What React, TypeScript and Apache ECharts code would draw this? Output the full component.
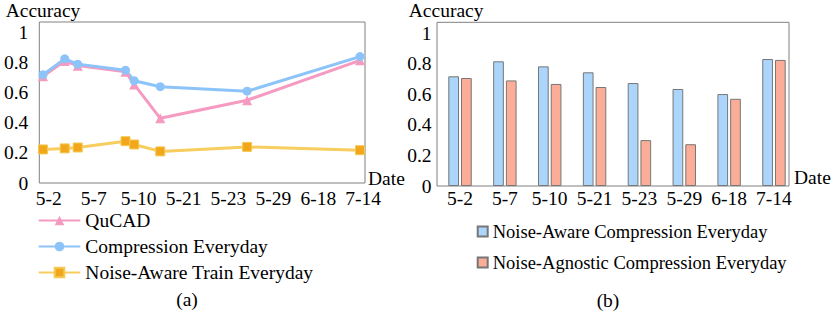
import React, { useEffect, useRef } from "react";
import * as echarts from "echarts";

const dateLabels = ["5-2", "5-7", "5-10", "5-21", "5-23", "5-29", "6-18", "7-14"];
const dayOffsets = [0, 5, 8, 19, 21, 27, 47, 73];
const qucad = [0.71, 0.81, 0.78, 0.74, 0.655, 0.43, 0.55, 0.815];
const compressionEveryday = [0.72, 0.825, 0.79, 0.75, 0.68, 0.64, 0.61, 0.84];
const noiseAwareTrain = [0.223, 0.23, 0.236, 0.278, 0.256, 0.21, 0.24, 0.218];
const noiseAwareComp = [0.717, 0.815, 0.782, 0.743, 0.673, 0.634, 0.601, 0.83];
const noiseAgnosticComp = [0.706, 0.69, 0.667, 0.647, 0.3, 0.273, 0.57, 0.824];

const FONT = "Liberation Serif";
const FS = 19.5;

export default function App() {
  const ref = useRef<HTMLDivElement>(null);
  useEffect(() => {
    document.body.style.margin = "0";
    const chart = echarts.init(ref.current!, null, { renderer: "svg" });
    const txt = { fontFamily: FONT, fontSize: FS, color: "#000" };
    const yLabelFmt = (v: number) => (v > 1.001 ? "" : String(Math.round(v * 10) / 10));
    const pts = (arr: number[]) => arr.map((v, i) => [dayOffsets[i], v]);
    const gtext = (text: string, x: number, y: number, align: string) => ({
      type: "text", x, y,
      style: { text, fontFamily: FONT, fontSize: FS, fill: "#000", textAlign: align, textVerticalAlign: "middle" },
    });
    chart.setOption({
      animation: false,
      textStyle: { fontFamily: FONT },
      grid: [
        { left: 39.3, right: 831 - 365, top: 21, bottom: 311 - 183, show: true, borderColor: "#808080", borderWidth: 1, backgroundColor: "transparent" },
        { left: 26.3, right: 831 - 385.7, top: 182, bottom: 311 - 183 },
        { left: 437.6, right: 831 - 796.4, top: 22.3, bottom: 311 - 186 },
      ],
      xAxis: [
        {
          gridIndex: 0, type: "value", min: -0.85, max: 74.15,
          axisLine: { show: false }, axisTick: { show: false }, axisLabel: { show: false }, splitLine: { show: false },
        },
        {
          gridIndex: 1, type: "category", data: dateLabels, boundaryGap: true,
          axisLine: { show: false }, axisTick: { show: false },
          axisLabel: { ...txt, margin: 5, interval: 0 },
        },
        {
          gridIndex: 2, type: "category", data: dateLabels, boundaryGap: true,
          axisLine: { show: false }, axisTick: { show: false },
          axisLabel: { ...txt, margin: 2, interval: 0 },
        },
      ],
      yAxis: [
        {
          gridIndex: 0, type: "value", min: 0, max: 1.07, interval: 0.2,
          axisLine: { show: false }, axisTick: { show: false }, splitLine: { show: false },
          axisLabel: { ...txt, margin: 11, formatter: yLabelFmt },
          name: "Accuracy", nameLocation: "end", nameGap: 2,
          nameTextStyle: { ...txt, align: "center" },
        },
        { gridIndex: 1, type: "value", show: false },
        {
          gridIndex: 2, type: "value", min: 0, max: 1.07, interval: 0.2,
          axisLine: { show: false }, axisTick: { show: false }, splitLine: { show: false },
          axisLabel: { ...txt, margin: 6, formatter: yLabelFmt },
          name: "Accuracy", nameLocation: "end", nameGap: 2,
          nameTextStyle: { ...txt, align: "center", padding: [0, 0, 0, 17] },
        },
      ],
      legend: [
        {
          orient: "vertical", left: 37.7, top: 210.5, padding: 0, itemWidth: 41.6, itemHeight: 12, itemGap: 6,
          textStyle: { ...txt, lineHeight: 19 },
          data: ["QuCAD", "Compression Everyday", "Noise-Aware Train Everyday"],
        },
        {
          orient: "vertical", left: 476.7, top: 222, padding: 0, itemWidth: 10, itemHeight: 10, itemGap: 12,
          textStyle: { ...txt, fontSize: 18.5, lineHeight: 19 },
          data: [
            { name: "Noise-Aware Compression Everyday", icon: "rect" },
            { name: "Noise-Agnostic Compression Everyday", icon: "rect" },
          ],
        },
      ],
      graphic: [
        { type: "rect", shape: { x: 437, y: 22.3, width: 352, height: 163.7 }, style: { fill: "none", stroke: "#808080", lineWidth: 1 }, z: 0 },
        gtext("Date", 368, 178, "left"),
        gtext("Date", 794, 177.5, "left"),
        gtext("(a)", 187, 299, "center"),
        gtext("(b)", 608, 300, "center"),
      ],
      series: [
        {
          name: "QuCAD", type: "line", xAxisIndex: 0, yAxisIndex: 0, data: pts(qucad),
          symbol: "triangle", symbolSize: 10,
          lineStyle: { color: "#f59ac0", width: 3 }, itemStyle: { color: "#f59ac0" },
        },
        {
          name: "Compression Everyday", type: "line", xAxisIndex: 0, yAxisIndex: 0, data: pts(compressionEveryday),
          symbol: "circle", symbolSize: 9,
          lineStyle: { color: "#8cc4fa", width: 3 }, itemStyle: { color: "#8cc4fa" },
        },
        {
          name: "Noise-Aware Train Everyday", type: "line", xAxisIndex: 0, yAxisIndex: 0, data: pts(noiseAwareTrain),
          symbol: "rect", symbolSize: 9,
          lineStyle: { color: "#f6cd5e", width: 3 }, itemStyle: { color: "#f2a71b", borderColor: "#f5c955", borderWidth: 1 },
        },
        {
          name: "Noise-Aware Compression Everyday", type: "bar", xAxisIndex: 2, yAxisIndex: 2, data: noiseAwareComp,
          barWidth: 10.7, barGap: "19%",
          itemStyle: { color: "#acd5fb", borderColor: "#777", borderWidth: 1 },
        },
        {
          name: "Noise-Agnostic Compression Everyday", type: "bar", xAxisIndex: 2, yAxisIndex: 2, data: noiseAgnosticComp,
          barWidth: 10.7, barGap: "19%",
          itemStyle: { color: "#fbad97", borderColor: "#777", borderWidth: 1 },
        },
      ],
    });
    return () => chart.dispose();
  }, []);
  return <div ref={ref} style={{ width: 831, height: 311 }} />;
}
